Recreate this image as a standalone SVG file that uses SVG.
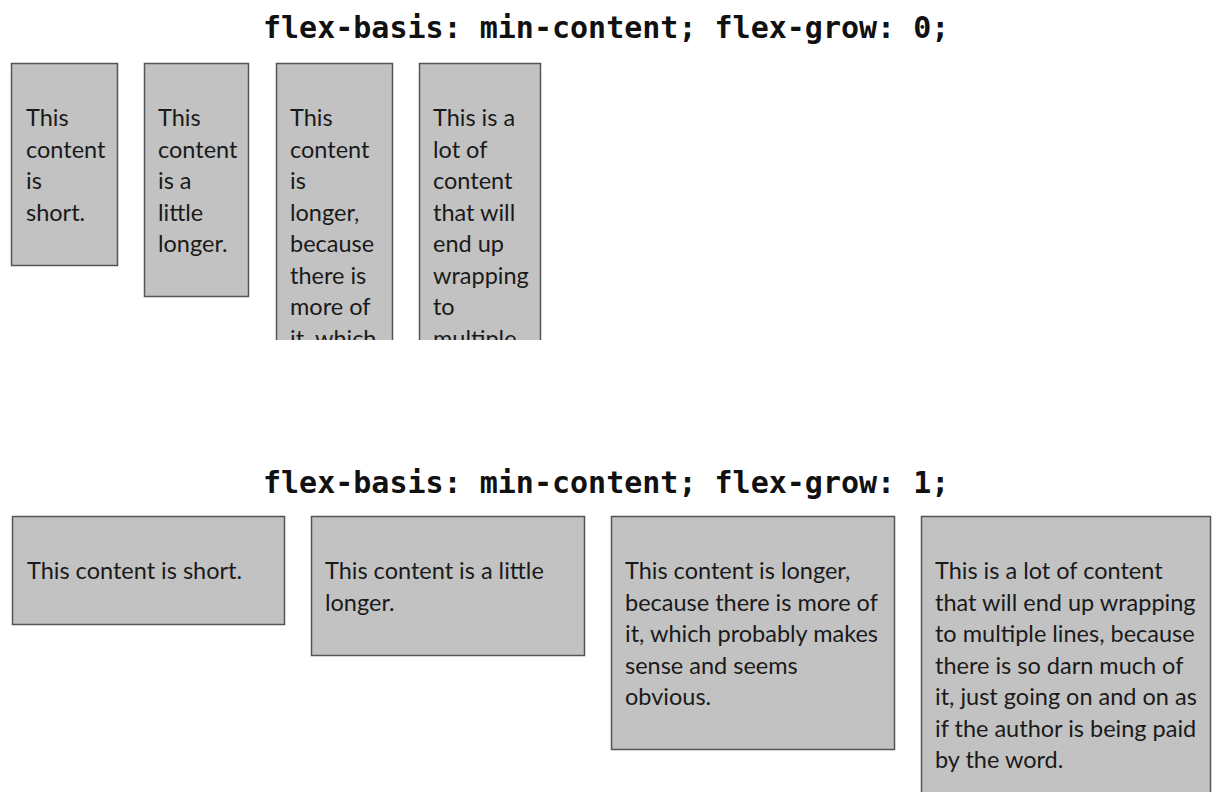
<svg xmlns="http://www.w3.org/2000/svg" width="1222" height="792" viewBox="0 0 1222 792">
<style>
.title{font-family:"DejaVu Sans Mono",monospace;font-weight:bold;font-size:30px;fill:#111}
.box{fill:#c2c2c2;stroke:#555;stroke-width:1.5}
.t{font-family:Lato,"Open Sans",sans-serif;font-size:23.5px;fill:#1a1a1a}
</style>
<defs>
<clipPath id="clipTop"><rect x="0" y="0" width="1222" height="340"/></clipPath>
</defs>
<rect width="1222" height="792" fill="#fff"/>
<text class="title" x="263" y="38">flex-basis: min-content; flex-grow: 0;</text>
<text class="title" x="263" y="493">flex-basis: min-content; flex-grow: 1;</text>
<g clip-path="url(#clipTop)">
<g id="top1"><rect class="box" x="11.5" y="63.5" width="106" height="202"/>
<text class="t"><tspan x="26" y="126">This</tspan><tspan x="26" y="157.5">content</tspan><tspan x="26" y="189">is</tspan><tspan x="26" y="220.5">short.</tspan></text></g>
<g id="top2"><rect class="box" x="144.5" y="63.5" width="104" height="233"/>
<text class="t"><tspan x="158" y="126">This</tspan><tspan x="158" y="157.5">content</tspan><tspan x="158" y="189">is a</tspan><tspan x="158" y="220.5">little</tspan><tspan x="158" y="252">longer.</tspan></text></g>
<g id="top3"><rect class="box" x="276.5" y="63.5" width="116" height="300"/>
<text class="t"><tspan x="290" y="126">This</tspan><tspan x="290" y="157.5">content</tspan><tspan x="290" y="189">is</tspan><tspan x="290" y="220.5">longer,</tspan><tspan x="290" y="252">because</tspan><tspan x="290" y="283.5">there is</tspan><tspan x="290" y="315">more of</tspan><tspan x="290" y="346.5">it, which</tspan></text></g>
<g id="top4"><rect class="box" x="419.5" y="63.5" width="121" height="300"/>
<text class="t"><tspan x="433" y="126">This is a</tspan><tspan x="433" y="157.5">lot of</tspan><tspan x="433" y="189">content</tspan><tspan x="433" y="220.5">that will</tspan><tspan x="433" y="252">end up</tspan><tspan x="433" y="283.5">wrapping</tspan><tspan x="433" y="315">to</tspan><tspan x="433" y="346.5">multiple</tspan></text></g>
</g>
<g id="bot1"><rect class="box" x="12.5" y="516.5" width="272" height="108"/>
<text class="t"><tspan x="27" y="579">This content is short.</tspan></text></g>
<g id="bot2"><rect class="box" x="311.5" y="516.5" width="273" height="139"/>
<text class="t"><tspan x="325" y="579">This content is a little</tspan><tspan x="325" y="610.5">longer.</tspan></text></g>
<g id="bot3"><rect class="box" x="611.5" y="516.5" width="283" height="233"/>
<text class="t"><tspan x="625" y="579">This content is longer,</tspan><tspan x="625" y="610.5">because there is more of</tspan><tspan x="625" y="642">it, which probably makes</tspan><tspan x="625" y="673.5">sense and seems</tspan><tspan x="625" y="705">obvious.</tspan></text></g>
<g id="bot4"><rect class="box" x="921.5" y="516.5" width="289" height="300"/>
<text class="t"><tspan x="935" y="579">This is a lot of content</tspan><tspan x="935" y="610.5">that will end up wrapping</tspan><tspan x="935" y="642">to multiple lines, because</tspan><tspan x="935" y="673.5">there is so darn much of</tspan><tspan x="935" y="705">it, just going on and on as</tspan><tspan x="935" y="736.5">if the author is being paid</tspan><tspan x="935" y="768">by the word.</tspan></text></g>
<g id="connectors"/>
</svg>
